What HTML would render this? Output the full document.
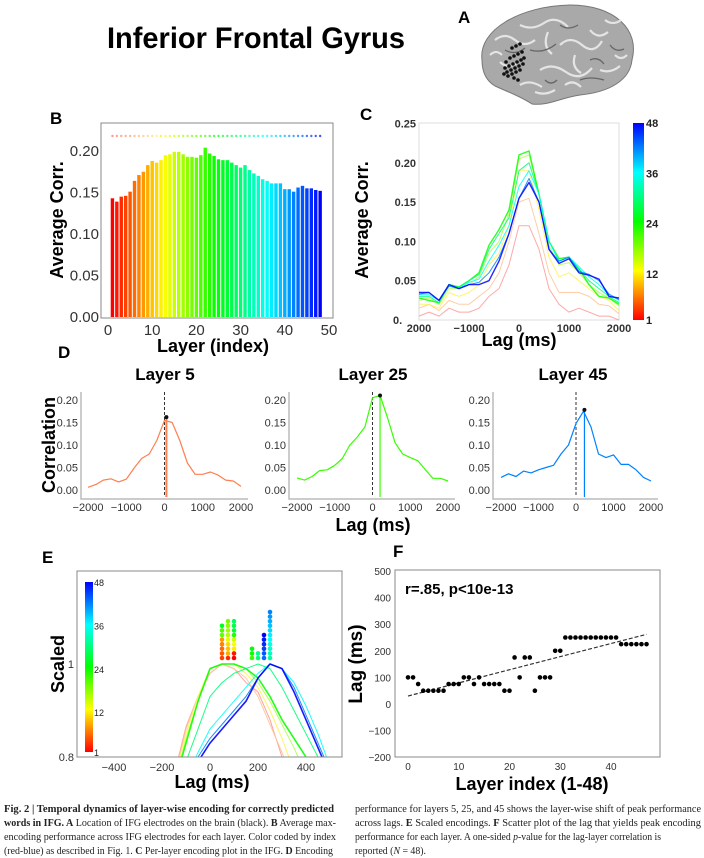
<!DOCTYPE html>
<html><head><meta charset="utf-8"><style>
html,body{margin:0;padding:0;background:#fff;width:704px;height:858px;overflow:hidden}
svg{display:block;font-family:"Liberation Sans",sans-serif}
.cap{font-family:"Liberation Serif",serif;font-size:11px;fill:#222}
</style></head><body>
<svg id="fig" width="704" height="858" viewBox="0 0 704 858" xmlns="http://www.w3.org/2000/svg">
<text x="107" y="48" font-size="30" font-weight="bold" textLength="298" lengthAdjust="spacingAndGlyphs">Inferior Frontal Gyrus</text>
<text x="458" y="23" font-size="17" font-weight="bold">A</text>
<g>
<path d="M482,60 C478,30 520,6 570,5 C615,5 640,30 632,60 C630,80 610,92 580,95 C560,98 548,106 532,104 C520,96 508,92 495,86 C485,80 482,70 482,60 Z" fill="#a9a9a9" stroke="#777"/>
<path d="M495,40 q10,-8 20,0 t20,0 M520,25 q12,6 24,-2 t24,4 M560,45 q10,-10 22,0 t20,-4 M500,62 q8,8 18,0 M540,70 q12,-8 26,2 t26,-4 M590,30 q8,10 18,2 M520,85 q10,-6 22,2 M600,70 q10,4 20,-4 M548,32 q-6,14 4,22 M575,55 q-4,12 6,18 M605,20 q8,6 16,0 M535,92 q10,4 20,-2 M565,85 q8,-6 16,2 M490,55 q6,-6 12,0 M615,55 q6,6 12,0" fill="none" stroke="#e4e4e4" stroke-width="2.2"/>
<path d="M505,50 q10,6 20,-2 M530,50 q14,4 26,-6 M580,80 q10,-4 24,0 M610,45 q6,8 14,4 M560,25 q8,6 18,0 M590,60 q8,-4 14,4 M545,80 q6,6 12,0" fill="none" stroke="#666" stroke-width="1.3"/>
<g id="electrodes" fill="#111"></g>
</g>
<text x="50" y="124" font-size="17" font-weight="bold">B</text>
<g id="panelB"></g>
<text x="360" y="120" font-size="17" font-weight="bold">C</text>
<g id="panelC"></g>
<text x="58" y="358" font-size="17" font-weight="bold">D</text>
<g id="panelD"></g>
<text x="42" y="563" font-size="17" font-weight="bold">E</text>
<g id="panelE"></g>
<text x="393" y="557" font-size="17" font-weight="bold">F</text>
<g id="panelF"></g>
<g>
<text class="cap" x="4" y="812" textLength="330" lengthAdjust="spacingAndGlyphs"><tspan font-weight="bold">Fig. 2 | Temporal dynamics of layer-wise encoding for correctly predicted</tspan></text>
<text class="cap" x="4" y="826" textLength="332" lengthAdjust="spacingAndGlyphs"><tspan font-weight="bold">words in IFG. A</tspan> Location of IFG electrodes on the brain (black). <tspan font-weight="bold">B</tspan> Average max-</text>
<text class="cap" x="4" y="840" textLength="332" lengthAdjust="spacingAndGlyphs">encoding performance across IFG electrodes for each layer. Color coded by index</text>
<text class="cap" x="4" y="854" textLength="329" lengthAdjust="spacingAndGlyphs">(red-blue) as described in Fig. 1. <tspan font-weight="bold">C</tspan> Per-layer encoding plot in the IFG. <tspan font-weight="bold">D</tspan> Encoding</text>
<text class="cap" x="355" y="812" textLength="346" lengthAdjust="spacingAndGlyphs">performance for layers 5, 25, and 45 shows the layer-wise shift of peak performance</text>
<text class="cap" x="355" y="826" textLength="346" lengthAdjust="spacingAndGlyphs">across lags. <tspan font-weight="bold">E</tspan> Scaled encodings. <tspan font-weight="bold">F</tspan> Scatter plot of the lag that yields peak encoding</text>
<text class="cap" x="355" y="840" textLength="306" lengthAdjust="spacingAndGlyphs">performance for each layer. A one-sided <tspan font-style="italic">p</tspan>-value for the lag-layer correlation is</text>
<text class="cap" x="355" y="854" textLength="71" lengthAdjust="spacingAndGlyphs">reported (<tspan font-style="italic">N</tspan> = 48).</text>
</g>
</svg>
<script>
// ---------- data ----------
const layerCorr = [0.143,0.139,0.145,0.146,0.151,0.164,0.171,0.175,0.183,0.188,0.186,0.189,0.195,0.196,0.199,0.199,0.196,0.193,0.193,0.192,0.195,0.204,0.197,0.194,0.190,0.189,0.189,0.186,0.183,0.180,0.183,0.177,0.173,0.170,0.166,0.164,0.161,0.161,0.161,0.154,0.154,0.151,0.156,0.158,0.155,0.155,0.153,0.152];
const bTicks = [0,0.05,0.10,0.15,0.20];
const bTickLabels = ["0.00","0.05","0.10","0.15","0.20"];
const bXTicks = [0,10,20,30,40,50];

const lagsC = [-2000,-1800,-1600,-1400,-1200,-1000,-800,-600,-400,-200,0,200,400,600,800,1000,1200,1400,1600,1800,2000];
const cLayers = [1,6,12,18,24,30,36,42,48];
const cL1  = [0.005,0.01,0.005,0.015,0.01,0.01,0.015,0.03,0.04,0.07,0.12,0.12,0.09,0.04,0.02,0.01,0.015,0.01,0.005,0.005,0.0];
const cL6  = [0.015,0.02,0.012,0.025,0.02,0.02,0.03,0.04,0.06,0.1,0.15,0.155,0.11,0.06,0.035,0.035,0.035,0.03,0.02,0.018,0.008];
const cL12 = [0.02,0.02,0.015,0.035,0.03,0.035,0.045,0.07,0.085,0.12,0.19,0.19,0.14,0.08,0.055,0.06,0.05,0.04,0.03,0.025,0.012];
const cL18 = [0.025,0.028,0.02,0.04,0.04,0.045,0.055,0.085,0.1,0.135,0.205,0.21,0.16,0.095,0.07,0.073,0.06,0.045,0.035,0.028,0.018];
const cL24 = [0.028,0.025,0.022,0.045,0.042,0.05,0.06,0.095,0.115,0.14,0.21,0.215,0.16,0.1,0.078,0.08,0.065,0.045,0.03,0.028,0.02];
const cL30 = [0.03,0.03,0.022,0.045,0.042,0.05,0.058,0.09,0.11,0.13,0.19,0.2,0.16,0.1,0.075,0.08,0.065,0.05,0.04,0.03,0.022];
const cL36 = [0.032,0.032,0.025,0.045,0.04,0.048,0.052,0.075,0.095,0.12,0.17,0.19,0.16,0.1,0.075,0.08,0.068,0.055,0.045,0.032,0.025];
const cL42 = [0.033,0.035,0.025,0.043,0.04,0.045,0.048,0.06,0.08,0.11,0.155,0.18,0.15,0.09,0.075,0.08,0.062,0.058,0.05,0.033,0.026];
const cL48 = [0.035,0.035,0.025,0.045,0.04,0.045,0.045,0.05,0.075,0.11,0.155,0.175,0.15,0.09,0.072,0.078,0.06,0.057,0.052,0.03,0.028];
const cSeries = [cL1,cL6,cL12,cL18,cL24,cL30,cL36,cL42,cL48];
const cYTicks = [0,0.05,0.10,0.15,0.20,0.25];
const cYTickLabels = ["0.","0.05","0.10","0.15","0.20","0.25"];
const cXTicks = [-2000,-1000,0,1000,2000];
const cXTickLabels = ["2000","\u22121000","0","1000","2000"];
const cbarTicks = [1,12,24,36,48];

const dLayers = [5,25,45];
const dL5  = [0.006,0.012,0.022,0.025,0.018,0.024,0.048,0.07,0.08,0.11,0.155,0.15,0.11,0.06,0.035,0.035,0.04,0.033,0.022,0.02,0.008];
const dL25 = [0.027,0.022,0.03,0.043,0.045,0.055,0.07,0.1,0.118,0.14,0.205,0.21,0.16,0.105,0.08,0.072,0.065,0.045,0.026,0.026,0.02];
const dL45 = [0.028,0.036,0.03,0.042,0.038,0.045,0.05,0.055,0.08,0.1,0.148,0.175,0.14,0.08,0.072,0.078,0.057,0.057,0.045,0.028,0.02];
const dSeries = [dL5,dL25,dL45];
const dPeakLag = [50,200,225];
const dPeakVal = [0.162,0.21,0.178];
const dYTicks = [0,0.05,0.10,0.15,0.20];
const dYTickLabels = ["0.00","0.05","0.10","0.15","0.20"];
const dXTicks = [-2000,-1000,0,1000,2000];

const lagsE = [-200,-150,-100,-50,0,50,100,150,200,250,300,350,400,450,500];
const eL1  = [0.64,0.76,0.865,0.93,0.98,1.0,0.99,0.96,0.94,0.88,0.8,0.72,0.65,0.6,0.55];
const eL6  = [0.64,0.75,0.86,0.93,0.98,1.0,0.99,0.97,0.93,0.87,0.81,0.74,0.67,0.61,0.56];
const eL12 = [0.65,0.75,0.85,0.93,0.99,1.0,1.0,0.98,0.95,0.9,0.84,0.77,0.7,0.64,0.58];
const eL18 = [0.66,0.74,0.84,0.92,0.99,1.0,1.0,0.99,0.96,0.92,0.87,0.82,0.76,0.7,0.64];
const eL24 = [0.66,0.74,0.83,0.92,0.99,1.0,1.0,0.99,0.97,0.93,0.88,0.84,0.8,0.75,0.7];
const eL30 = [0.64,0.71,0.79,0.86,0.93,0.96,0.98,0.99,1.0,0.99,0.95,0.9,0.85,0.8,0.74];
const eL36 = [0.62,0.68,0.75,0.81,0.86,0.89,0.92,0.95,0.98,1.0,0.99,0.96,0.91,0.85,0.78];
const eL42 = [0.61,0.67,0.73,0.8,0.84,0.87,0.9,0.93,0.97,1.0,0.99,0.95,0.89,0.83,0.77];
const eL48 = [0.6,0.66,0.72,0.79,0.83,0.86,0.89,0.92,0.97,1.0,0.99,0.94,0.88,0.82,0.76];
const eSeries = [eL1,eL6,eL12,eL18,eL24,eL30,eL36,eL42,eL48];
const eXTicks = [-400,-200,0,200,400];
const eXTickLabels = ["\u2212400","\u2212200","0","200","400"];
const eYTicks = [0.8,1.0];
const eYTickLabels = ["0.8","1"];

const fLayerIdx = [0,1,2,3,4,5,6,7,8,9,10,11,12,13,14,15,16,17,18,19,20,21,22,23,24,25,26,27,28,29,30,31,32,33,34,35,36,37,38,39,40,41,42,43,44,45,46,47];
const fPeakLag = [100,100,75,50,50,50,50,50,75,75,75,100,100,75,100,75,75,75,75,50,50,175,100,175,175,50,100,100,100,200,200,250,250,250,250,250,250,250,250,250,250,250,225,225,225,225,225,225];
const fFitStart = [0,30];
const fFitEnd = [47,262];
const fXTicks = [0,10,20,30,40];
const fYTicks = [-200,-100,0,100,200,300,400,500];

// ---------- helpers ----------
const NS = "http://www.w3.org/2000/svg";
function mk(tag, attrs, parent){ const e=document.createElementNS(NS,tag); for(const k in attrs) e.setAttribute(k,attrs[k]); if(parent) parent.appendChild(e); return e; }
function txt(str, attrs, parent){ const e=mk("text",attrs,parent); e.textContent=str; return e; }
function layerColor(l, light){ const h = 240*(l-1)/47; return light ? `hsl(${h},100%,${l<12?80:65}%)` : `hsl(${h},100%,50%)`; }
function lin(d0,d1,r0,r1){ return v => r0 + (v-d0)*(r1-r0)/(d1-d0); }

// ---------- electrodes ----------
const elG = document.getElementById("electrodes");
const elecX = [505,509,513,517,521,507,511,515,519,523,504,508,512,516,520,510,514,518,522,512,516,520,506,514,518,524];
const elecY = [68,66,64,62,60,72,70,68,66,64,74,76,74,72,70,58,56,54,52,48,46,44,62,78,80,58];
for(let i=0;i<elecX.length;i++){ const c=mk("circle",{cx:elecX[i],cy:elecY[i],r:1.8},elG);

 }

// ---------- panel B ----------
(function(){
 const g=document.getElementById("panelB");
 const x=lin(0,50,108,329), y=lin(0,0.20,317,151);
 const fr=mk("rect",{x:101,y:123,width:232,height:195,fill:"none",stroke:"#888","stroke-width":1},g);
 
 
 layerCorr.forEach((v,i)=>{ const l=i+1;
  const b=mk("rect",{x:x(l)-1.7,y:y(v),width:3.4,height:y(0)-y(v),fill:layerColor(l)},g);
  
  
  const d=mk("circle",{cx:x(l),cy:136,r:1.2,fill:layerColor(l,true)},g);
  
  
 });
 bTicks.forEach((t,i)=>{ const tl=txt(bTickLabels[i],{x:99,y:y(t)+5,"font-size":15,fill:"#333","text-anchor":"end"},g);
  
   });
 bXTicks.forEach(t=>{ const tl=txt(String(t),{x:x(t),y:335,"font-size":15,fill:"#333","text-anchor":"middle"},g);
  
   });
 const yt=txt("Average Corr.",{x:0,y:0,"font-size":18,"font-weight":"bold",transform:"translate(63,220) rotate(-90)","text-anchor":"middle"},g);
 
 
 const xt=txt("Layer (index)",{x:213,y:352,"font-size":18,"font-weight":"bold","text-anchor":"middle"},g);
 
 
})();

// ---------- panel C ----------
(function(){
 const g=document.getElementById("panelC");
 const x=lin(-2000,2000,419,619), y=lin(0,0.25,320,123.5);
 const fr=mk("rect",{x:419,y:123,width:200,height:197,fill:"none",stroke:"#ddd"},g);
 
 
 cSeries.forEach((s,k)=>{ const l=cLayers[k];
  const pts=s.map((v,i)=>x(lagsC[i]).toFixed(1)+","+y(v).toFixed(1)).join(" ");
  const p=mk("polyline",{points:pts,fill:"none",stroke:layerColor(l,l<20),"stroke-width":(l==24||l==48)?1.4:1,opacity:0.85,"stroke-linejoin":"round"},g);
  
  
 });
 cYTicks.forEach((t,i)=>{ const tl=txt(cYTickLabels[i],{x:i==0?393:416,y:y(t)+4,"font-size":11,fill:"#333","text-anchor":i==0?"start":"end","font-weight":"bold"},g);
  
   });
 cXTicks.forEach((t,i)=>{ const tl=txt(cXTickLabels[i],{x:x(t),y:332,"font-size":11,fill:"#333","text-anchor":"middle","font-weight":"bold"},g);
  
   });
 const yt=txt("Average Corr.",{x:0,y:0,"font-size":18,"font-weight":"bold",transform:"translate(368,220) rotate(-90)","text-anchor":"middle"},g);
 
 
 const xt=txt("Lag (ms)",{x:519,y:346,"font-size":18,"font-weight":"bold","text-anchor":"middle"},g);
 
 
 const defs=mk("defs",{},g);
 const lg=mk("linearGradient",{id:"jetC",x1:0,y1:1,x2:0,y2:0},defs);
 [0,0.25,0.5,0.75,1].forEach(o=>mk("stop",{offset:o,"stop-color":`hsl(${240*o},100%,50%)`},lg));
 const cb=mk("rect",{x:633,y:123,width:11,height:197,fill:"url(#jetC)"},g);
 
 
 const cy=lin(1,48,320,123);
 cbarTicks.forEach(t=>{ const tl=txt(String(t),{x:646,y:cy(t)+4,"font-size":11,fill:"#222","font-weight":"bold"},g);
  
   });
})();

// ---------- panel D ----------
(function(){
 const g=document.getElementById("panelD");
 const spines=[81,289,493], x0s=[88,297,501], x1s=[241,448,651], titles=[165,373,573];
 const y=lin(0,0.20,490,400);
 dLayers.forEach((l,k)=>{
  const x=lin(-2000,2000,x0s[k],x1s[k]);
  const sp=mk("path",{d:`M${spines[k]},392 V499 H${x1s[k]+7}`,fill:"none",stroke:"#bbb","stroke-width":1.5},g);
  
  
  const t=txt("Layer "+l,{x:titles[k],y:380,"font-size":17,"font-weight":"bold","text-anchor":"middle"},g);
  
  
  const z=mk("line",{x1:x(0),x2:x(0),y1:392,y2:497,stroke:"#333","stroke-dasharray":"3,2","stroke-width":1},g);
  
  
  const col=l==5?"#ff7f50":layerColor(l==25?22:42);
  const pk=mk("line",{x1:x(dPeakLag[k]),x2:x(dPeakLag[k]),y1:y(dPeakVal[k]),y2:497,stroke:col,"stroke-width":l==5?2:1.2},g);
  
  
  const pts=dSeries[k].map((v,i)=>x(lagsC[i]).toFixed(1)+","+y(v).toFixed(1)).join(" ");
  const p=mk("polyline",{points:pts,fill:"none",stroke:col,"stroke-width":1.2,"stroke-linejoin":"round"},g);
  
  
  const dot=mk("circle",{cx:x(dPeakLag[k]),cy:y(dPeakVal[k]),r:2,fill:"#111"},g);
  
  
  dYTicks.forEach((tv,i)=>{ const tl=txt(dYTickLabels[i],{x:spines[k]-3,y:y(tv)+4,"font-size":11,fill:"#333","text-anchor":"end"},g);
   
    });
  dXTicks.forEach(tv=>{ const tl=txt(tv<0?"\u2212"+(-tv):String(tv),{x:x(tv),y:511,"font-size":11,fill:"#333","text-anchor":"middle"},g);
   
    });
 });
 const yt=txt("Correlation",{x:0,y:0,"font-size":18,"font-weight":"bold",transform:"translate(55,445) rotate(-90)","text-anchor":"middle"},g);
 
 
 const xt=txt("Lag (ms)",{x:373,y:531,"font-size":18,"font-weight":"bold","text-anchor":"middle"},g);
 
 
})();

// ---------- panel E ----------
(function(){
 const g=document.getElementById("panelE");
 const x=lin(0,400,210,306), y=lin(0.8,1.0,757,664);
 const defs=mk("defs",{},g);
 const cp=mk("clipPath",{id:"clipE"},defs); mk("rect",{x:77,y:571,width:265,height:186},cp);
 const lg=mk("linearGradient",{id:"jetE",x1:0,y1:1,x2:0,y2:0},defs);
 [0,0.25,0.5,0.75,1].forEach(o=>mk("stop",{offset:o,"stop-color":`hsl(${240*o},100%,50%)`},lg));
 const lines=mk("g",{"clip-path":"url(#clipE)"},g);
 eSeries.forEach((s,k)=>{ const l=cLayers[k];
  const pts=s.map((v,i)=>x(lagsE[i]).toFixed(1)+","+y(v).toFixed(1)).join(" ");
  const p=mk("polyline",{points:pts,fill:"none",stroke:layerColor(l,l<20),"stroke-width":(l==24||l==48)?1.6:1,opacity:0.9,"stroke-linejoin":"round"},lines);
  
  
 });
 // stacked peak dots from panel F data
 const counts={};
 fPeakLag.forEach((lag,i)=>{ const n=counts[lag]||0; counts[lag]=n+1;
  const d=mk("circle",{cx:x(lag),cy:658-n*4.6,r:2.3,fill:layerColor(fLayerIdx[i]+1)},g);
  
  
 });
 const fr=mk("rect",{x:77,y:571,width:265,height:186,fill:"none",stroke:"#888"},g);
 
 
 const cb=mk("rect",{x:85,y:582,width:8,height:170,fill:"url(#jetE)"},g);
 
 
 const cy=lin(1,48,752,582);
 cbarTicks.forEach(t=>{ const tl=txt(String(t),{x:94,y:cy(t)+4,"font-size":9,fill:"#222"},g);
  
   });
 eXTicks.forEach((t,i)=>{ const tl=txt(eXTickLabels[i],{x:x(t),y:771,"font-size":11,fill:"#333","text-anchor":"middle"},g);
  
   });
 eYTicks.forEach((t,i)=>{ const tl=txt(eYTickLabels[i],{x:74,y:y(t)+4,"font-size":11,fill:"#333","text-anchor":"end"},g);
  
   });
 const yt=txt("Scaled",{x:0,y:0,"font-size":18,"font-weight":"bold",transform:"translate(64,664) rotate(-90)","text-anchor":"middle"},g);
 
 
 const xt=txt("Lag (ms)",{x:212,y:788,"font-size":18,"font-weight":"bold","text-anchor":"middle"},g);
 
 
})();

// ---------- panel F ----------
(function(){
 const g=document.getElementById("panelF");
 const x=lin(0,40,408,611), y=lin(0,500,704,571);
 const fr=mk("rect",{x:395,y:570,width:265,height:187,fill:"none",stroke:"#888"},g);
 
 
 const fit=mk("line",{x1:x(fFitStart[0]),y1:y(fFitStart[1]),x2:x(fFitEnd[0]),y2:y(fFitEnd[1]),stroke:"#333","stroke-dasharray":"4,2","stroke-width":1.2},g);
 
 
 fPeakLag.forEach((v,i)=>{ const d=mk("circle",{cx:x(fLayerIdx[i]),cy:y(v),r:2.3,fill:"#000"},g);
  
   });
 fXTicks.forEach(t=>{ const tl=txt(String(t),{x:x(t),y:770,"font-size":10,fill:"#333","text-anchor":"middle"},g);
  
   });
 fYTicks.forEach(t=>{ const tl=txt(t<0?"\u2212"+(-t):String(t),{x:391,y:y(t)+4,"font-size":10,fill:"#333","text-anchor":"end"},g);
  
   });
 const an=txt("r=.85, p<10e-13",{x:405,y:594,"font-size":15,"font-weight":"bold"},g);
 
 
 const yt=txt("Lag (ms)",{x:0,y:0,"font-size":19,"font-weight":"bold",transform:"translate(362,664) rotate(-90)","text-anchor":"middle"},g);
 
 
 const xt=txt("Layer index (1-48)",{x:532,y:790,"font-size":18,"font-weight":"bold","text-anchor":"middle"},g);
 
 
})();
</script>
</body></html>
